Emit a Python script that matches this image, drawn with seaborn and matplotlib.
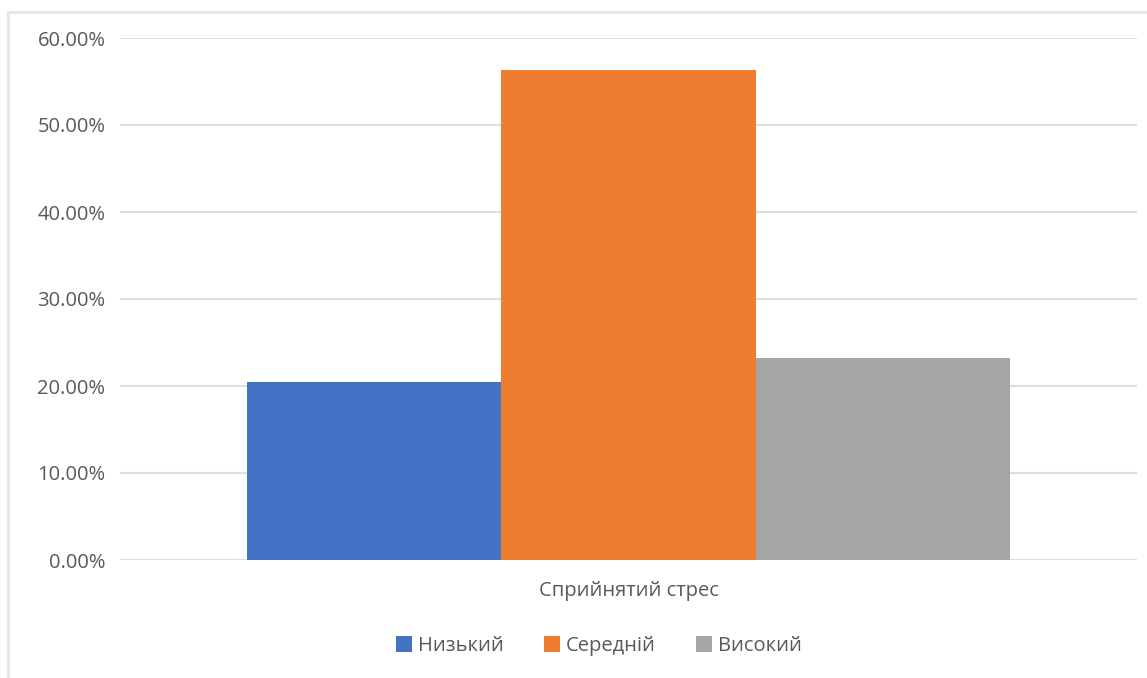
import matplotlib
matplotlib.use("Agg")
import matplotlib.pyplot as plt
import seaborn as sns
import pandas as pd
from matplotlib.patches import Rectangle
from matplotlib.ticker import FuncFormatter

categories = ["Сприйнятий стрес"]
levels = ["Низький", "Середній", "Високий"]
values = [0.2045, 0.5636, 0.2318]
colors = ["#4472C4", "#ED7D31", "#A5A5A5"]
yticks = [0.0, 0.1, 0.2, 0.3, 0.4, 0.5, 0.6]

df = pd.DataFrame({"category": categories * len(levels), "level": levels, "value": values})

sns.set_theme(style="white")
plt.rcParams["font.family"] = ["Open Sans", "DejaVu Sans"]

W, H = 1147, 678
fig = plt.figure(figsize=(W / 100, H / 100), dpi=100)
fig.patch.set_facecolor("white")

# outer chart border (top and left visible)
fig.patches.append(Rectangle((8 / W, -0.05), 1.1, 1 - 12 / H + 0.05, transform=fig.transFigure,
                             fill=False, edgecolor="#e6e6e6", linewidth=2, zorder=0))

ax = fig.add_axes([120 / W, 1 - 560 / H, (1137 - 120) / W, (560 - 38) / H])
sns.barplot(data=df, x="category", y="value", hue="level", hue_order=levels,
            palette=colors, width=0.75, saturation=1, ax=ax, legend=True)

ax.set_xlim(-0.5, 0.5)
ax.set_ylim(0, 0.6)
ax.set_yticks(yticks)
ax.yaxis.set_major_formatter(FuncFormatter(lambda v, p: f"{v*100:.2f}%"))
ax.grid(axis="y", color="#dedede", linewidth=1.5)
ax.set_axisbelow(True)
for s in ax.spines.values():
    s.set_visible(False)
ax.axhline(0, color="#dedede", linewidth=1.5, zorder=0)
ax.tick_params(axis="both", length=0, labelsize=14.5, labelcolor="#595959")
ax.tick_params(axis="y", pad=10.5)
ax.tick_params(axis="x", pad=15)
ax.set_xlabel("")
ax.set_ylabel("")

for p in ax.patches:
    p.set_edgecolor("none")

leg = ax.get_legend()
handles, labels = ax.get_legend_handles_labels()
leg.remove()
fig.legend(handles, labels, loc="center", bbox_to_anchor=(599 / W, 1 - 646 / H), ncol=3,
           frameon=False, fontsize=14.5, labelcolor="#595959", handlelength=0.8, handleheight=0.8,
           handletextpad=0.3, columnspacing=2.0)

fig.savefig("out.png", dpi=100, facecolor="white")
